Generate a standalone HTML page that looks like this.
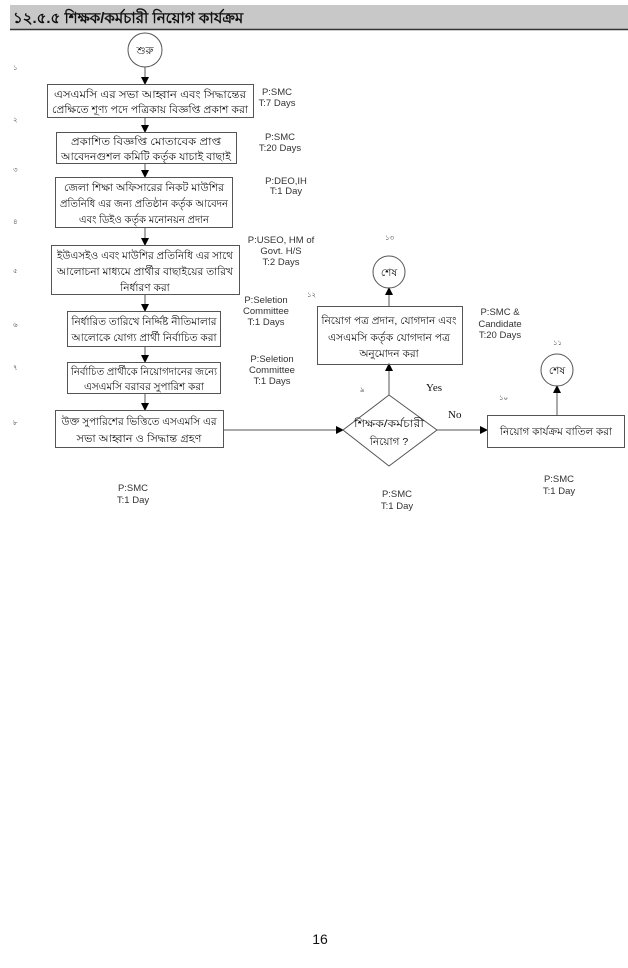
<!DOCTYPE html>
<html><head><meta charset="utf-8"><style>
body{margin:0;background:#fff;width:628px;height:968px;overflow:hidden}
svg{display:block}
.b{font-family:"Liberation Sans","Noto Sans CJK SC",sans-serif;font-size:10.5px;fill:#111}
.l{font-family:"Liberation Sans",sans-serif;font-size:9.5px;fill:#333}
.n{font-family:"Liberation Sans",sans-serif;font-size:7px;fill:#444}
</style></head><body>
<svg width="628" height="968" viewBox="0 0 628 968" xmlns="http://www.w3.org/2000/svg">
<defs><marker id="a" markerWidth="8" markerHeight="8" refX="7" refY="4" orient="auto" markerUnits="userSpaceOnUse"><path d="M0,0 L8,4 L0,8z" fill="#000"/></marker></defs>
<rect x="10" y="5" width="618" height="24" fill="#c8c8c8"/>
<line x1="10" y1="29.5" x2="628" y2="29.5" stroke="#333" stroke-width="1.5"/>
<text x="13" y="23" font-family="Liberation Sans,sans-serif" font-size="15" font-weight="bold" fill="#111">১২.৫.৫ শিক্ষক/কর্মচারী  নিয়োগ কার্যক্রম</text>
<g stroke="#555" fill="none" stroke-width="1">
<circle cx="145" cy="50" r="17"/>
<line x1="145" y1="67" x2="145" y2="84" marker-end="url(#a)"/>
<rect x="47.5" y="84.5" width="206" height="33"/>
<line x1="145" y1="117" x2="145" y2="132" marker-end="url(#a)"/>
<rect x="56.5" y="132.5" width="180" height="31"/>
<line x1="145" y1="163" x2="145" y2="177" marker-end="url(#a)"/>
<rect x="55.5" y="177.5" width="177" height="50"/>
<line x1="145" y1="227" x2="145" y2="245" marker-end="url(#a)"/>
<rect x="51.5" y="245.5" width="188" height="49"/>
<line x1="145" y1="294" x2="145" y2="311" marker-end="url(#a)"/>
<rect x="67.5" y="311.5" width="153" height="35"/>
<line x1="145" y1="346" x2="145" y2="362" marker-end="url(#a)"/>
<rect x="67.5" y="362.5" width="153" height="31"/>
<line x1="145" y1="393" x2="145" y2="410" marker-end="url(#a)"/>
<rect x="55.5" y="410.5" width="168" height="37"/>
<line x1="223" y1="430" x2="343" y2="430" marker-end="url(#a)"/>
<polygon points="389,395 437,430 389,466 343,430"/>
<line x1="389" y1="395" x2="389" y2="364" marker-end="url(#a)"/>
<rect x="317.5" y="306.5" width="145" height="58"/>
<line x1="389" y1="306" x2="389" y2="288" marker-end="url(#a)"/>
<circle cx="389" cy="272" r="16"/>
<line x1="437" y1="430" x2="487" y2="430" marker-end="url(#a)"/>
<rect x="487.5" y="415.5" width="137" height="32"/>
<line x1="557" y1="415" x2="557" y2="386" marker-end="url(#a)"/>
<circle cx="557" cy="370" r="16"/>
</g>
<g class="b" text-anchor="middle">
<text x="145" y="54">শুরু</text>
<text x="150" y="98" textLength="192" lengthAdjust="spacingAndGlyphs">এসএমসি এর সভা আহ্বান এবং সিদ্ধান্তের</text>
<text x="150" y="113" textLength="196" lengthAdjust="spacingAndGlyphs">প্রেক্ষিতে শূণ্য পদে পত্রিকায় বিজ্ঞপ্তি প্রকাশ করা</text>
<text x="146" y="145" textLength="150" lengthAdjust="spacingAndGlyphs">প্রকাশিত বিজ্ঞপ্তি মোতাবেক প্রাপ্ত</text>
<text x="146" y="160" textLength="170" lengthAdjust="spacingAndGlyphs">আবেদনগুশল কমিটি কর্তৃক যাচাই বাছাই</text>
<text x="144" y="191" textLength="160" lengthAdjust="spacingAndGlyphs">জেলা শিক্ষা অফিসারের নিকট মাউশির</text>
<text x="144" y="207" textLength="168" lengthAdjust="spacingAndGlyphs">প্রতিনিধি এর জন্য প্রতিষ্ঠান কর্তৃক আবেদন</text>
<text x="144" y="223" textLength="130" lengthAdjust="spacingAndGlyphs">এবং ডিইও কর্তৃক মনোনয়ন প্রদান</text>
<text x="145" y="259" textLength="176" lengthAdjust="spacingAndGlyphs">ইউএসইও এবং মাউশির প্রতিনিধি এর সাথে</text>
<text x="145" y="275" textLength="176" lengthAdjust="spacingAndGlyphs">আলোচনা মাধ্যমে প্রার্থীর বাছাইয়ের তারিখ</text>
<text x="145" y="291">নির্ধারণ করা</text>
<text x="144" y="325" textLength="145" lengthAdjust="spacingAndGlyphs">নির্ধারিত তারিখে নির্দ্দিষ্ট নীতিমালার</text>
<text x="144" y="341" textLength="145" lengthAdjust="spacingAndGlyphs">আলোকে যোগ্য প্রার্থী নির্বাচিত করা</text>
<text x="144" y="375" textLength="146" lengthAdjust="spacingAndGlyphs">নির্বাচিত প্রার্থীকে নিয়োগদানের জন্যে</text>
<text x="144" y="390" textLength="120" lengthAdjust="spacingAndGlyphs">এসএমসি বরাবর সুপারিশ করা</text>
<text x="139" y="425" textLength="155" lengthAdjust="spacingAndGlyphs">উক্ত সুপারিশের ভিত্তিতে এসএমসি এর</text>
<text x="139" y="442" textLength="125" lengthAdjust="spacingAndGlyphs">সভা আহ্বান ও সিদ্ধান্ত গ্রহণ</text>
<text x="389" y="427" textLength="70" lengthAdjust="spacingAndGlyphs">শিক্ষক/কর্মচারী</text>
<text x="389" y="445">নিয়োগ ?</text>
<text x="389" y="324" textLength="135" lengthAdjust="spacingAndGlyphs">নিয়োগ পত্র প্রদান, যোগদান এবং</text>
<text x="389" y="341" textLength="122" lengthAdjust="spacingAndGlyphs">এসএমসি কর্তৃক যোগদান পত্র</text>
<text x="389" y="357">অনুমোদন করা</text>
<text x="389" y="276">শেষ</text>
<text x="556" y="435" textLength="112" lengthAdjust="spacingAndGlyphs">নিয়োগ কার্যক্রম বাতিল করা</text>
<text x="557" y="374">শেষ</text>
</g>
<g font-family="Liberation Serif,serif" font-size="11" fill="#111">
<text x="426" y="391">Yes</text><text x="448" y="418">No</text>
</g>
<g class="l" text-anchor="middle">
<text x="277" y="95">P:SMC</text><text x="277" y="106">T:7 Days</text>
<text x="280" y="140">P:SMC</text><text x="280" y="151">T:20 Days</text>
<text x="286" y="184">P:DEO,IH</text><text x="286" y="194">T:1 Day</text>
<text x="281" y="243">P:USEO, HM of</text><text x="281" y="254">Govt. H/S</text><text x="281" y="265">T:2 Days</text>
<text x="266" y="303">P:Seletion</text><text x="266" y="314">Committee</text><text x="266" y="325">T:1 Days</text>
<text x="272" y="362">P:Seletion</text><text x="272" y="373">Committee</text><text x="272" y="384">T:1 Days</text>
<text x="133" y="491">P:SMC</text><text x="133" y="503">T:1 Day</text>
<text x="397" y="497">P:SMC</text><text x="397" y="509">T:1 Day</text>
<text x="500" y="315">P:SMC &amp;</text><text x="500" y="327">Candidate</text><text x="500" y="338">T:20 Days</text>
<text x="559" y="482">P:SMC</text><text x="559" y="494">T:1 Day</text>
</g>
<g class="n">
<text x="13" y="70">১</text><text x="13" y="122">২</text><text x="13" y="172">৩</text><text x="13" y="224">৪</text>
<text x="13" y="273">৫</text><text x="13" y="327">৬</text><text x="13" y="370">৭</text><text x="13" y="425">৮</text>
<text x="360" y="392">৯</text><text x="499" y="400">১০</text><text x="553" y="345">১১</text>
<text x="307" y="297">১২</text><text x="385" y="240">১৩</text>
</g>
<text x="320" y="944" text-anchor="middle" font-family="Liberation Sans,sans-serif" font-size="14" fill="#111">16</text>
</svg>
</body></html>
